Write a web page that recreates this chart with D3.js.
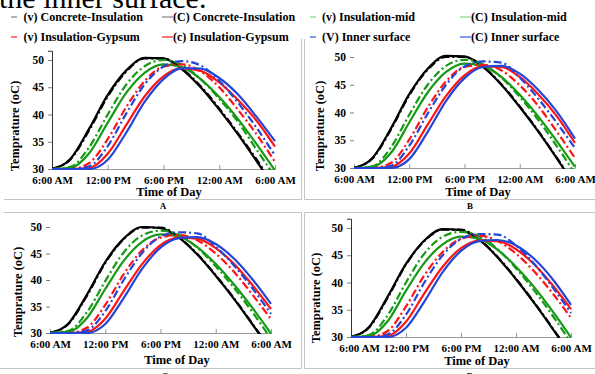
<!DOCTYPE html>
<html><head><meta charset="utf-8">
<script src="https://cdn.jsdelivr.net/npm/d3@7"></script>
<style>body{margin:0;background:#fff;overflow:hidden}svg{display:block}</style>
</head><body>
<script>
// ---------- data ----------
const hours = [0, 2, 4, 6, 8, 10, 12, 14, 16, 18, 20, 22, 24]; // hours after 6:00 AM
const tickHours = [0, 6, 12, 18, 24];
const tickLabels = ["6:00 AM", "12:00 PM", "6:00 PM", "12:00 AM", "6:00 AM"];
const yTicks = [30, 35, 40, 45, 50];
const seriesNames = ["(v) Concrete-Insulation", "(C) Concrete-Insulation", "(v) Insulation-mid", "(C) Insulation-mid",
                     "(v) Insulation-Gypsum", "(c) Insulation-Gypsum", "(V) Inner surface", "(C) Inner surface"];
const panelLabels = ["A", "B", "C", "D"];

const panelA = [
  [30.0, 31.8, 37.1, 43.3, 47.9, 50.3, 50.3, 48.4, 45.2, 41.1, 36.6, 31.8, 26.7],
  [30.0, 31.9, 37.4, 43.6, 48.1, 50.4, 50.3, 48.3, 45.0, 40.9, 36.4, 31.5, 26.4],
  [30.0, 30.4, 34.0, 40.0, 45.5, 48.9, 50.0, 49.1, 46.5, 42.9, 38.7, 33.6, 28.6],
  [30.0, 30.2, 32.9, 38.5, 44.0, 47.7, 49.2, 48.7, 46.5, 43.2, 39.2, 34.6, 29.7],
  [30.0, 30.0, 31.1, 35.5, 41.4, 46.2, 48.8, 49.2, 47.9, 45.0, 40.9, 36.4, 31.3],
  [30.0, 30.0, 30.2, 32.8, 38.1, 43.4, 47.0, 48.5, 48.0, 45.9, 42.7, 38.9, 34.1],
  [30.0, 30.0, 30.5, 34.2, 40.2, 45.6, 48.8, 49.8, 49.0, 46.2, 42.2, 37.6, 32.5],
  [30.0, 30.0, 30.0, 31.7, 36.7, 42.4, 46.5, 48.5, 48.4, 46.7, 43.7, 39.6, 35.1]
];
const panelB = [
  [30.0, 31.7, 36.9, 43.1, 47.7, 50.0, 50.0, 48.3, 45.1, 41.1, 36.7, 31.9, 27.0],
  [30.0, 31.8, 37.1, 43.3, 47.9, 50.2, 50.1, 48.2, 45.0, 41.0, 36.6, 31.8, 26.8],
  [30.0, 30.3, 33.7, 39.6, 45.0, 48.4, 49.5, 48.7, 46.3, 42.8, 38.7, 34.0, 29.0],
  [30.0, 30.2, 32.7, 38.2, 43.6, 47.3, 48.8, 48.4, 46.4, 43.2, 39.3, 34.9, 30.2],
  [30.0, 30.0, 30.9, 35.1, 40.9, 45.6, 48.2, 48.6, 47.6, 44.9, 41.2, 36.6, 31.8],
  [30.0, 30.0, 30.2, 32.6, 37.8, 43.0, 46.7, 48.3, 48.2, 46.4, 43.3, 39.4, 34.5],
  [30.0, 30.0, 30.4, 34.0, 39.8, 45.0, 48.3, 49.2, 49.0, 46.3, 42.5, 38.2, 33.6],
  [30.0, 30.0, 30.0, 31.6, 36.5, 42.1, 46.2, 48.2, 48.4, 47.0, 44.1, 40.2, 35.3]
];
const panelC = [
  [30.0, 31.7, 37.0, 43.2, 47.7, 49.9, 49.9, 48.1, 44.9, 40.9, 36.5, 31.7, 26.8],
  [30.0, 31.8, 37.2, 43.4, 47.8, 50.0, 49.8, 48.0, 44.8, 40.8, 36.4, 31.6, 26.6],
  [30.0, 30.4, 33.9, 39.8, 45.2, 48.4, 49.3, 48.5, 46.1, 42.6, 38.5, 33.9, 28.9],
  [30.0, 30.2, 32.8, 38.3, 43.6, 47.2, 48.6, 48.2, 46.2, 43.0, 39.1, 34.7, 29.9],
  [30.0, 30.0, 31.0, 35.3, 41.1, 45.6, 48.0, 48.5, 47.5, 45.0, 41.5, 37.2, 32.6],
  [30.0, 30.0, 30.2, 32.7, 37.9, 43.0, 46.6, 48.0, 47.8, 46.0, 43.0, 39.0, 34.5],
  [30.0, 30.0, 30.5, 34.1, 40.0, 45.1, 48.2, 49.0, 48.8, 46.3, 42.7, 38.4, 33.6],
  [30.0, 30.0, 30.0, 31.7, 36.6, 42.1, 46.1, 47.9, 48.1, 46.8, 44.0, 40.1, 35.5]
];
const panelD = [
  [30.0, 31.8, 37.2, 43.3, 47.6, 49.7, 49.7, 47.9, 44.7, 40.7, 36.3, 31.6, 26.8],
  [30.0, 31.9, 37.4, 43.4, 47.7, 49.8, 49.6, 47.8, 44.6, 40.6, 36.2, 31.5, 26.6],
  [30.0, 30.4, 34.0, 40.0, 45.3, 48.4, 49.3, 48.5, 46.1, 42.6, 38.5, 33.9, 28.9],
  [30.0, 30.2, 32.9, 38.5, 43.6, 47.0, 48.4, 48.0, 46.0, 42.9, 39.1, 34.7, 29.9],
  [30.0, 30.0, 31.1, 35.6, 41.3, 45.6, 48.0, 48.6, 47.6, 45.3, 42.0, 38.0, 33.5],
  [30.0, 30.0, 30.2, 32.8, 38.0, 42.9, 46.3, 47.7, 47.6, 46.1, 43.3, 39.5, 35.1],
  [30.0, 30.0, 30.5, 34.1, 40.0, 45.0, 48.0, 48.9, 48.8, 46.8, 43.4, 39.1, 34.4],
  [30.0, 30.0, 30.0, 31.7, 36.5, 41.9, 45.8, 47.6, 47.8, 46.8, 44.3, 40.6, 35.9]
];

// ---------- styles ----------
const seriesColors = ["#000000", "#000000", "#149a14", "#149a14", "#ff1414", "#ff1414", "#2346d8", "#2346d8"];
const seriesDashed = [true, false, true, false, true, false, true, false];
const legendColors = ["#8a8a8a", "#8a8a8a", "#92d892", "#92d892", "#ff2a2a", "#ff2a2a", "#3f62e2", "#3f62e2"];
const FONT = "'Liberation Serif','Times New Roman',serif";

const W = 595, H = 374;
const svg = d3.select("body").append("svg").attr("width", W).attr("height", H)
  .style("font-family", FONT);

// top clipped caption text
svg.append("text").attr("x", -1).attr("y", 8).attr("font-size", 30)
  .attr("fill", "#000").text("the inner surface.");

// legend
const legCols = [{s: 11, t: 23.5}, {s: 162, t: 173}, {s: 310, t: 322}, {s: 460, t: 471}];
const legRows = [17, 37];
seriesNames.forEach((name, i) => {
  const r = Math.floor(i / 4), c = i % 4;
  const col = legCols[c], yy = legRows[r];
  const len = seriesDashed[i] ? 6 : 11;
  svg.append("line").attr("x1", col.s).attr("x2", col.s + len).attr("y1", yy).attr("y2", yy)
    .attr("stroke", legendColors[i]).attr("stroke-width", 1.3);
  svg.append("text").attr("x", col.t).attr("y", yy + 4).attr("font-size", 12)
    .attr("font-weight", "bold").attr("fill", "#000").text(name);
});

// panel boxes (visible edges only)
const boxColor = "#c4c4c4";
const boxPaths = [
  "M4,199.5H301.5V39",
  "M304.5,39V199.5H596",
  "M4,212.5H301.5V368.5H0",
  "M596,212.5H304.5V368.5H596"
];
boxPaths.forEach(d => svg.append("path").attr("d", d).attr("fill", "none")
  .attr("stroke", boxColor).attr("stroke-width", 1));

// panel letters
[[163, 209], [470, 209], [165, 379], [470, 379]].forEach((p, i) => {
  svg.append("text").attr("x", p[0]).attr("y", p[1]).attr("font-size", 9)
    .attr("font-weight", "bold").attr("text-anchor", "middle").text(panelLabels[i]);
});

const panels = [
  {data: panelA, x0: 52, x1: 275, y30: 169, step: 5.45, yLine: true, yt: [15, 126], xt: [169, 196], firstDx: 0},
  {data: panelB, x0: 354, x1: 575, y30: 168, step: 5.55, yLine: false, yt: [320, 126], xt: [478, 196], firstDx: 0},
  {data: panelC, x0: 50, x1: 271, y30: 333, step: 5.3, yLine: false, yt: [18, 292], xt: [177, 364], firstDx: 0},
  {data: panelD, x0: 351, x1: 571, y30: 337, step: 5.45, yLine: true, yt: [316, 298], xt: [477, 365], firstDx: 8}
];

panels.forEach((p, pi) => {
  const yTop = 51.7;
  const x = d3.scaleLinear().domain([0, 24]).range([p.x0, p.x1]);
  const y = d3.scaleLinear().domain([30, yTop]).range([p.y30, p.y30 - (yTop - 30) * p.step]);
  const g = svg.append("g");

  const cid = "clip" + pi;
  svg.append("defs").append("clipPath").attr("id", cid).append("rect")
    .attr("x", p.x0).attr("y", y(yTop)).attr("width", p.x1 - p.x0 + 2).attr("height", p.y30 - y(yTop) + 1);

  // x axis
  const xa = g.append("g").attr("transform", `translate(0,${p.y30})`)
    .call(d3.axisBottom(x).tickValues(tickHours).tickFormat((d, i) => tickLabels[i])
      .tickSizeInner(-4).tickSizeOuter(0).tickPadding(7));
  xa.select(".domain").attr("stroke", "#9a9a9a");
  xa.selectAll(".tick line").attr("stroke", "#9a9a9a");
  xa.selectAll(".tick text").attr("font-family", FONT).attr("font-size", 11)
    .attr("font-weight", "bold").attr("fill", "#000")
    .attr("dx", (d, i) => i === 0 ? p.firstDx : 0);

  // y axis
  const ya = g.append("g").attr("transform", `translate(${p.x0},0)`)
    .call(d3.axisLeft(y).tickValues(yTicks).tickSize(4).tickPadding(4));
  if (p.yLine) ya.select(".domain").attr("stroke", "#333");
  else ya.select(".domain").remove();
  ya.selectAll(".tick line").attr("stroke", "#808080");
  ya.selectAll(".tick text").attr("font-family", FONT).attr("font-size", 11.5)
    .attr("font-weight", "bold").attr("fill", "#000");

  // titles
  g.append("text").attr("transform", `translate(${p.yt[0]},${p.yt[1]}) rotate(-90)`)
    .attr("text-anchor", "middle").attr("dy", "0.35em").attr("font-size", 12.5)
    .attr("font-weight", "bold").text("Temprature (oC)");
  g.append("text").attr("x", p.xt[0]).attr("y", p.xt[1]).attr("text-anchor", "middle")
    .attr("font-size", 12.5).attr("font-weight", "bold").text("Time of Day");

  // lines
  const line = d3.line().x((d, i) => x(hours[i])).y(d => y(d)).curve(d3.curveMonotoneX);
  const lg = g.append("g").attr("clip-path", `url(#${cid})`);
  p.data.forEach((vals, si) => {
    lg.append("path").datum(vals).attr("d", line).attr("fill", "none")
      .attr("stroke", seriesColors[si]).attr("stroke-width", 2.2)
      .attr("stroke-dasharray", seriesDashed[si] ? "8,3,2,3" : null);
  });
});
</script>
</body></html>
